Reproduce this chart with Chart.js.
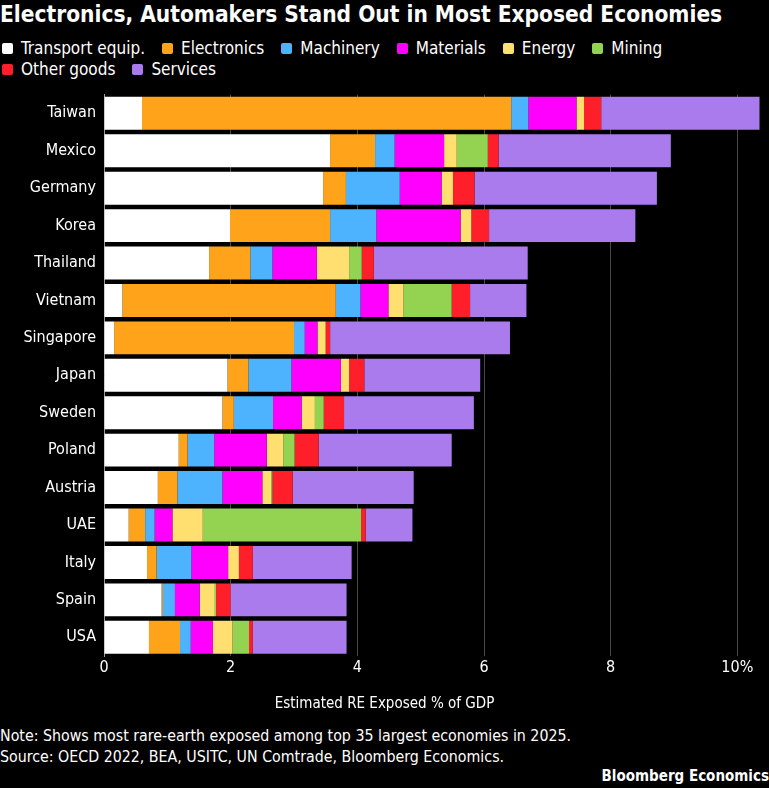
<!DOCTYPE html>
<html>
<head>
<meta charset="utf-8">
<script src="https://cdn.jsdelivr.net/npm/chart.js@4"></script>
<style>
  html, body { margin: 0; padding: 0; background: #000; }
  body { width: 769px; height: 788px; overflow: hidden; position: relative; color: #fff;
         font-family: 'DejaVu Sans Condensed', 'DejaVu Sans', sans-serif; }
  #title { position: absolute; left: 0; top: 1px; font-size: 22.5px; font-weight: bold; line-height: 26px; white-space: nowrap; }
  #legend { position: absolute; left: 2px; top: 38px; width: 767px; font-size: 17px; line-height: 21px; }
  .row { display: flex; white-space: nowrap; }
  .item { display: flex; align-items: center; margin-right: 17px; }
  .sw { width: 11px; height: 11px; border-radius: 2px; margin-right: 8px; }
  #wrap { position: absolute; left: 0; top: 77px; width: 769px; height: 643px; }
  #xtitle { position: absolute; left: 0; width: 769px; top: 693px; text-align: center; font-size: 15px; line-height: 21px; }
  #notes { position: absolute; left: 0; top: 725px; font-size: 15.8px; line-height: 21px; white-space: nowrap; }
  #brand { position: absolute; right: 0; top: 766px; font-size: 15px; font-weight: bold; line-height: 21px; }
</style>
</head>
<body>
<div id="title">Electronics, Automakers Stand Out in Most Exposed Economies</div>
<div id="legend"></div>
<div id="wrap"><canvas id="rareChart" width="769" height="643"></canvas></div>
<div id="xtitle">Estimated RE Exposed % of GDP</div>
<div id="notes">Note: Shows most rare-earth exposed among top 35 largest economies in 2025.<br>Source: OECD 2022, BEA, USITC, UN Comtrade, Bloomberg Economics.</div>
<div id="brand">Bloomberg Economics</div>
<script>
// values, % of GDP
var countries = ['Taiwan', 'Mexico', 'Germany', 'Korea', 'Thailand', 'Vietnam', 'Singapore', 'Japan',
                 'Sweden', 'Poland', 'Austria', 'UAE', 'Italy', 'Spain', 'USA'];
var transport  = [0.60, 3.57, 3.46, 1.99, 1.66, 0.29, 0.16, 1.95, 1.87, 1.18, 0.85, 0.39, 0.68, 0.91, 0.71];
var electronics = [5.83, 0.71, 0.36, 1.58, 0.65, 3.37, 2.84, 0.33, 0.18, 0.14, 0.31, 0.26, 0.15, 0.02, 0.49];
var machinery  = [0.27, 0.31, 0.85, 0.73, 0.35, 0.39, 0.17, 0.68, 0.62, 0.42, 0.71, 0.15, 0.55, 0.19, 0.17];
var materials  = [0.76, 0.78, 0.66, 1.33, 0.70, 0.44, 0.20, 0.78, 0.45, 0.83, 0.63, 0.28, 0.58, 0.39, 0.35];
var energy     = [0.12, 0.20, 0.18, 0.17, 0.51, 0.24, 0.13, 0.13, 0.21, 0.26, 0.14, 0.48, 0.17, 0.24, 0.31];
var mining     = [0.00, 0.49, 0.00, 0.00, 0.20, 0.76, 0.00, 0.00, 0.14, 0.18, 0.02, 2.50, 0.00, 0.02, 0.26];
var otherGoods = [0.27, 0.17, 0.34, 0.28, 0.19, 0.29, 0.07, 0.24, 0.32, 0.38, 0.32, 0.07, 0.22, 0.23, 0.06];
var services   = [2.50, 2.72, 2.88, 2.31, 2.43, 0.89, 2.84, 1.83, 2.05, 2.10, 1.91, 0.74, 1.56, 1.83, 1.48];
var xTicks = [0, 2, 4, 6, 8, 10];

var series = [
    { label: 'Transport equip.', data: transport, color: '#ffffff' },
    { label: 'Electronics', data: electronics, color: '#ffa31a' },
    { label: 'Machinery', data: machinery, color: '#4db3ff' },
    { label: 'Materials', data: materials, color: '#ff00ff' },
    { label: 'Energy', data: energy, color: '#ffdf70' },
    { label: 'Mining', data: mining, color: '#94d352' },
    { label: 'Other goods', data: otherGoods, color: '#ff1f2b' },
    { label: 'Services', data: services, color: '#a97bec' }
];

// html legend, two rows like the original
var legend = document.getElementById('legend');
var rows = [series.slice(0, 6), series.slice(6)];
rows.forEach(function (r) {
    var row = document.createElement('div');
    row.className = 'row';
    r.forEach(function (s) {
        var it = document.createElement('div');
        it.className = 'item';
        it.innerHTML = '<span class="sw" style="background:' + s.color + '"></span>' + s.label;
        row.appendChild(it);
    });
    legend.appendChild(row);
});

Chart.defaults.font.family = "'DejaVu Sans Condensed', 'DejaVu Sans', sans-serif";
Chart.defaults.color = '#ffffff';

var data = {
    labels: countries,
    datasets: series.map(function (s) {
        return {
            label: s.label,
            data: s.data,
            backgroundColor: s.color,
            borderWidth: 0,
            barPercentage: 0.88,
            categoryPercentage: 1.0
        };
    })
};

var config = {
    type: 'bar',
    data: data,
    options: {
        indexAxis: 'y',
        responsive: false,
        animation: false,
        layout: { padding: { top: 3, right: 0, left: 0, bottom: 0 } },
        plugins: {
            legend: { display: false },
            tooltip: { enabled: false }
        },
        scales: {
            x: {
                stacked: true,
                min: 0,
                max: 10.5,
                afterBuildTicks: function (scale) {
                    scale.ticks = xTicks.map(function (v) { return { value: v }; });
                },
                afterFit: function (scale) { scale.height = 64; },
                ticks: {
                    font: { size: 16 },
                    color: '#ffffff',
                    padding: 2,
                    callback: function (v) { return v === 10 ? '10%' : v; }
                },
                grid: { color: '#4a4a4a', lineWidth: 1, drawTicks: false },
                border: { display: false }
            },
            y: {
                stacked: true,
                afterFit: function (scale) { scale.width = 104; },
                ticks: { font: { size: 16 }, color: '#ffffff', padding: 8 },
                grid: { display: false, drawTicks: false },
                border: { display: true, color: '#9a9a9a', width: 1 }
            }
        }
    }
};

var chart = new Chart('rareChart', config);
</script>
</body>
</html>
